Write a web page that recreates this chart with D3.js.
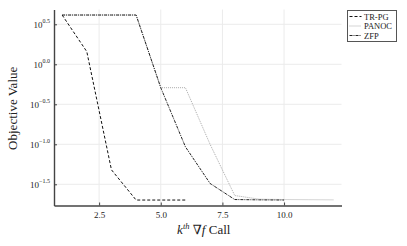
<!DOCTYPE html>
<html>
<head>
<meta charset="utf-8">
<script src="https://cdn.jsdelivr.net/npm/d3@7"></script>
<style>
  body { margin: 0; background: #fff; }
  text { font-family: "Liberation Serif", "DejaVu Serif", serif; fill: #222; }
</style>
</head>
<body>
<div id="chart"></div>
<script>
// data
const trpgX = [1, 2, 3, 4, 5, 6];
const trpgY = [4.13, 1.44, 0.048, 0.0201, 0.0201, 0.0201];

const panocX = [1, 2, 3, 4, 5, 6, 7, 8, 9, 10, 11, 12];
const panocY = [4.13, 4.13, 4.13, 4.13, 0.51, 0.51, 0.1, 0.0229, 0.0206, 0.0204, 0.0203, 0.0202];

const zfpX = [1, 2, 3, 4, 5, 6, 7, 8, 9, 10];
const zfpY = [4.13, 4.13, 4.13, 4.13, 0.51, 0.093, 0.0324, 0.0204, 0.0202, 0.0201];

const xTicks = [2.5, 5.0, 7.5, 10.0];
const yTickExps = ["0.5", "0.0", "-0.5", "-1.0", "-1.5"];

const seriesNames = ["TR-PG", "PANOC", "ZFP"];

const svgWidth = 407;
const svgHeight = 246;
const margins = { top: 9.5, right: 65.5, bottom: 40.5, left: 54 };
const chartWidth = svgWidth - margins.left - margins.right;
const chartHeight = svgHeight - margins.top - margins.bottom;

const svg = d3.select("#chart")
    .append("svg")
    .attr("width", svgWidth)
    .attr("height", svgHeight);

const chartGroup = svg.append("g")
    .attr("transform", `translate(${margins.left}, ${margins.top})`);

const xScale = d3.scaleLinear()
    .domain([0.67, 12.33])
    .range([0, chartWidth]);

const yScale = d3.scaleLog()
    .domain([Math.pow(10, -1.765), Math.pow(10, 0.685)])
    .range([chartHeight, 0]);

// grid
chartGroup.append("g")
    .selectAll("line")
    .data(xTicks)
    .enter()
    .append("line")
    .attr("x1", d => xScale(d)).attr("x2", d => xScale(d))
    .attr("y1", 0).attr("y2", chartHeight)
    .attr("stroke", "#ebebeb").attr("stroke-width", 1);

chartGroup.append("g")
    .selectAll("line")
    .data(yTickExps)
    .enter()
    .append("line")
    .attr("x1", 0).attr("x2", chartWidth)
    .attr("y1", d => yScale(Math.pow(10, +d))).attr("y2", d => yScale(Math.pow(10, +d)))
    .attr("stroke", "#ebebeb").attr("stroke-width", 1);

// axes
const bottomAxis = d3.axisBottom(xScale)
    .tickValues(xTicks)
    .tickFormat(d3.format(".1f"))
    .tickSizeInner(-3)
    .tickSizeOuter(0)
    .tickPadding(6);

const xAxis = chartGroup.append("g")
    .attr("transform", `translate(0, ${chartHeight})`)
    .call(bottomAxis);
xAxis.select(".domain").attr("stroke", "#444").attr("stroke-width", 1.4);
xAxis.selectAll(".tick line").attr("stroke", "#444");
xAxis.selectAll("text").attr("font-size", 9).attr("fill", "#555")
    .style("font-family", "Liberation Serif, serif");

const leftAxis = d3.axisLeft(yScale)
    .tickValues(yTickExps.map(e => Math.pow(10, +e)))
    .tickFormat("")
    .tickSizeInner(-3)
    .tickSizeOuter(0);

const yAxis = chartGroup.append("g").call(leftAxis);
yAxis.select(".domain").attr("stroke", "#444").attr("stroke-width", 1.4);
yAxis.selectAll(".tick line").attr("stroke", "#444");

// y tick labels as 10^exp
const yLabels = chartGroup.append("g")
    .selectAll("text")
    .data(yTickExps)
    .enter()
    .append("text")
    .attr("x", -4)
    .attr("y", d => yScale(Math.pow(10, +d)) + 3.5)
    .attr("text-anchor", "end")
    .attr("fill", "#555");
yLabels.append("tspan").attr("font-size", 9).text("10");
yLabels.append("tspan").attr("font-size", 6).attr("dy", -4.5)
    .text(d => d.replace("-", "\u2212"));

// series lines
const lineGen = d3.line()
    .x(d => xScale(d[0]))
    .y(d => yScale(d[1]));

const series = [
    { name: seriesNames[0], pts: d3.zip(trpgX, trpgY), color: "#111", dash: "3,2", width: 1 },
    { name: seriesNames[1], pts: d3.zip(panocX, panocY), color: "#aaa", dash: "1,1", width: 1 },
    { name: seriesNames[2], pts: d3.zip(zfpX, zfpY), color: "#222", dash: "3,1,1,1", width: 1 }
];

chartGroup.append("g")
    .selectAll("path")
    .data([series[1], series[0], series[2]])
    .enter()
    .append("path")
    .attr("d", d => lineGen(d.pts))
    .attr("fill", "none")
    .attr("stroke", d => d.color)
    .attr("stroke-width", d => d.width)
    .attr("stroke-dasharray", d => d.dash);

// axis titles
chartGroup.append("text")
    .attr("transform", "rotate(-90)")
    .attr("x", -(yScale(Math.pow(10, -0.55))))
    .attr("y", -37)
    .attr("text-anchor", "middle")
    .attr("font-size", 13)
    .attr("fill", "#333")
    .text("Objective Value");

const xTitle = chartGroup.append("text")
    .attr("x", chartWidth / 2 + 6)
    .attr("y", chartHeight + 28)
    .attr("text-anchor", "middle")
    .attr("font-size", 13)
    .attr("fill", "#333");
xTitle.append("tspan").attr("font-style", "italic").text("k");
xTitle.append("tspan").attr("font-style", "italic").attr("font-size", 8.5).attr("dy", -5).text("th");
xTitle.append("tspan").attr("dy", 5).text(" \u2207");
xTitle.append("tspan").attr("font-style", "italic").text("f");
xTitle.append("tspan").text(" Call");

// legend
const legend = svg.append("g")
    .attr("transform", "translate(347.5, 10.5)");

legend.append("rect")
    .attr("width", 49)
    .attr("height", 31)
    .attr("fill", "#fff")
    .attr("stroke", "#555")
    .attr("stroke-width", 1);

const legendItems = legend.selectAll("g.item")
    .data(series)
    .enter()
    .append("g")
    .attr("class", "item")
    .attr("transform", (d, i) => `translate(0, ${6 + i * 9.5})`);

legendItems.append("line")
    .attr("x1", 2).attr("x2", 14)
    .attr("y1", 0).attr("y2", 0)
    .attr("stroke", d => d.color)
    .attr("stroke-width", 1)
    .attr("stroke-dasharray", d => d.dash);

legendItems.append("text")
    .attr("x", 16.5)
    .attr("y", 3)
    .attr("font-size", 8.5)
    .attr("fill", "#444")
    .text(d => d.name);
</script>
</body>
</html>
